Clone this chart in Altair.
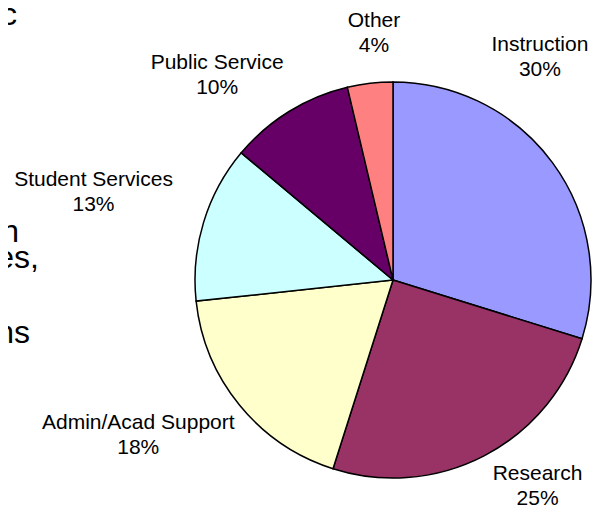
import math
import altair as alt
import pandas as pd

# ---- data ----
categories = ["Instruction", "Research", "Admin/Acad Support",
              "Student Services", "Public Service", "Other"]
values = [29.8, 25.1, 18.4, 12.8, 10.2, 3.7]
colors = ["#9999FF", "#993366", "#FFFFCC", "#CCFFFF", "#660066", "#FF8080"]

# slide text fragments visible at the left edge
fragments = ["c", "n", "es,", "ns"]

# ---- layout (pixels / degrees) ----
W, H = 584, 499
CX, CY, R = 385, 272, 198          # pie centre and radius
LX, LY = 388, 272                  # origin for the label offsets
label_angle_deg = [32.9, 145.5, 238.9, 286.2, 318.9, 354.9]
label_dist = [265, 250, 301, 315, 272, 247.5]
frag_x = [9, 11, 31, 22]
frag_y = [17, 234, 260, 335]

FONT = "Liberation Sans"

df = pd.DataFrame({
    "cat": categories,
    "value": values,
    "order": list(range(len(categories))),
})
df["label"] = [f"{c}\n{round(v)}%" for c, v in zip(categories, values)]
df["lt"] = [math.radians(a) for a in label_angle_deg]
df["lr"] = label_dist

pie = alt.Chart(df).mark_arc(
    outerRadius=R, stroke="#000000", strokeWidth=1.5
).encode(
    theta=alt.Theta("value:Q", stack=True),
    order=alt.Order("order:Q"),
    color=alt.Color("cat:N", scale=alt.Scale(domain=categories, range=colors),
                    legend=None),
    x=alt.value(CX),
    y=alt.value(CY),
)

labels = alt.Chart(df).mark_text(
    font=FONT, fontSize=21, color="#000000", align="center",
    baseline="middle", lineBreak="\n", lineHeight=25, dy=-12.5,
).encode(
    theta=alt.Theta("lt:Q", scale=None, stack=None),
    radius=alt.Radius("lr:Q", scale=None),
    text="label:N",
    x=alt.value(LX),
    y=alt.value(LY),
)

fdf = pd.DataFrame({"t": fragments, "fx": frag_x, "fy": frag_y})
frag = alt.Chart(fdf).mark_text(
    font=FONT, fontSize=32, color="#000000", align="right",
    baseline="alphabetic",
).encode(
    x=alt.X("fx:Q", scale=None, axis=None),
    y=alt.Y("fy:Q", scale=None, axis=None),
    text="t:N",
)

chart = alt.layer(pie, labels, frag).properties(
    width=W, height=H,
    autosize=alt.AutoSizeParams(type="none"),
    padding=0,
).configure(
    background="#ffffff",
    view=alt.ViewConfig(stroke=None),
)

chart.save("out.html", embed_options={"renderer": "svg", "actions": False})
